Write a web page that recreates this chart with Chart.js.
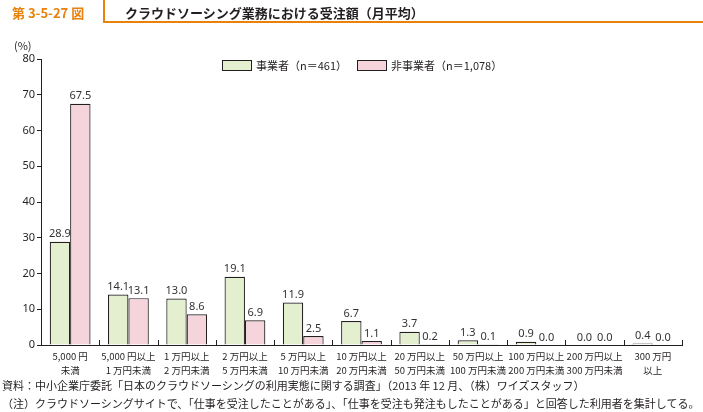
<!DOCTYPE html>
<html>
<head>
<meta charset="utf-8">
<script src="https://cdn.jsdelivr.net/npm/chart.js@4"></script>
<style>
  body { margin: 0; background: #fff; font-family: "Noto Sans CJK JP", "Noto Sans", sans-serif; color: #231f20; }
  #wrap { position: relative; width: 703px; height: 412px; overflow: hidden; }
  #wrap canvas { position: absolute; left: 0; top: 0; }
  .abs { position: absolute; white-space: nowrap; }
  #fig { left: 12px; top: 3px; font-size: 13px; font-weight: bold; color: #e8820c; }
  #vline { left: 103px; top: 0; width: 2px; height: 23px; background: #e8820c; }
  #hline { left: 103px; top: 21px; width: 600px; height: 2px; background: #e8820c; }
  #title { left: 125px; top: 3px; font-size: 13px; font-weight: bold; }
  #unit { left: 14px; top: 37px; font-size: 11px; }
  #legend { left: 222px; top: 57px; font-size: 11px; display: flex; align-items: center; }
  #legend .box { width: 28px; height: 9px; border: 1px solid #231f20; margin-right: 4px; }
  #legend .item { display: flex; align-items: center; margin-right: 10px; }
  .note { left: 2px; font-size: 11px; }
</style>
</head>
<body>
<div id="wrap">
  <canvas id="myChart" width="703" height="412"></canvas>
  <div class="abs" id="fig">第 3-5-27 図</div>
  <div class="abs" id="vline"></div>
  <div class="abs" id="hline"></div>
  <div class="abs" id="title">クラウドソーシング業務における受注額（月平均）</div>
  <div class="abs" id="unit">(%)</div>
  <div class="abs" id="legend"></div>
  <div class="abs note" style="top:377px">資料：中小企業庁委託「日本のクラウドソーシングの利用実態に関する調査」（2013 年 12 月、（株）ワイズスタッフ）</div>
  <div class="abs note" style="top:395px">（注）クラウドソーシングサイトで、「仕事を受注したことがある」、「仕事を受注も発注もしたことがある」と回答した利用者を集計してる。</div>
</div>
<script>
var categories = [
    ["5,000 円", "未満"],
    ["5,000 円以上", "1 万円未満"],
    ["1 万円以上", "2 万円未満"],
    ["2 万円以上", "5 万円未満"],
    ["5 万円以上", "10 万円未満"],
    ["10 万円以上", "20 万円未満"],
    ["20 万円以上", "50 万円未満"],
    ["50 万円以上", "100 万円未満"],
    ["100 万円以上", "200 万円未満"],
    ["200 万円以上", "300 万円未満"],
    ["300 万円", "以上"]
];
var seriesNames = ["事業者（n＝461）", "非事業者（n＝1,078）"];
var jigyosha = [28.9, 14.1, 13.0, 19.1, 11.9, 6.7, 3.7, 1.3, 0.9, 0.0, 0.4];
var hiJigyosha = [67.5, 13.1, 8.6, 6.9, 2.5, 1.1, 0.2, 0.1, 0.0, 0.0, 0.0];
var colors = ["#e4efcf", "#f5d4db"];
var yTicks = [0, 10, 20, 30, 40, 50, 60, 70, 80];

var ink = "#231f20";

// legend in html
var legend = document.getElementById("legend");
seriesNames.forEach(function(name, i) {
    var item = document.createElement("div");
    item.className = "item";
    item.innerHTML = '<span class="box" style="background:' + colors[i] + '"></span>' + name;
    legend.appendChild(item);
});

// value labels + short tick marks going up from the x axis
var extras = {
    id: "extras",
    afterDatasetsDraw: function(chart) {
        var ctx = chart.ctx;
        ctx.save();
        ctx.font = "11px 'Noto Sans', 'Noto Sans CJK JP', sans-serif";
        ctx.fillStyle = "#333";
        ctx.textAlign = "center";
        ctx.textBaseline = "bottom";
        chart.data.datasets.forEach(function(ds, di) {
            chart.getDatasetMeta(di).data.forEach(function(bar, i) {
                ctx.fillText(ds.data[i].toFixed(1), bar.x, bar.y - 2);
            });
        });
        var xs = chart.scales.x;
        ctx.strokeStyle = ink;
        ctx.lineWidth = 1;
        for (var i = 0; i <= categories.length; i++) {
            var px = Math.round(xs.getPixelForValue(i - 0.5)) + 0.5;
            ctx.beginPath();
            ctx.moveTo(px, chart.chartArea.bottom);
            ctx.lineTo(px, chart.chartArea.bottom - 5);
            ctx.stroke();
        }
        ctx.restore();
    }
};

var myChart = new Chart(document.getElementById("myChart"), {
    type: "bar",
    data: {
        labels: categories,
        datasets: [
            {
                label: seriesNames[0],
                data: jigyosha,
                backgroundColor: colors[0],
                borderColor: ink,
                borderWidth: 1.2
            },
            {
                label: seriesNames[1],
                data: hiJigyosha,
                backgroundColor: colors[1],
                borderColor: ink,
                borderWidth: 1.2
            }
        ]
    },
    options: {
        responsive: false,
        animation: false,
        layout: { padding: { left: 0, top: 59, right: 21, bottom: 0 } },
        datasets: { bar: { barPercentage: 1, categoryPercentage: 0.7 } },
        plugins: {
            legend: { display: false },
            tooltip: { enabled: false }
        },
        scales: {
            x: {
                grid: { display: false },
                border: { color: ink, width: 1 },
                ticks: {
                    color: ink,
                    font: { size: 9.5, family: "'Liberation Sans Narrow', 'Noto Sans CJK JP', sans-serif", lineHeight: 1.45 },
                    padding: -3,
                    maxRotation: 0,
                    autoSkip: false
                },
                afterFit: function(scale) { scale.height = 67; }
            },
            y: {
                min: 0,
                max: 80,
                afterBuildTicks: function(scale) {
                    scale.ticks = yTicks.map(function(v) { return { value: v }; });
                },
                grid: { drawOnChartArea: false, tickLength: 4, color: ink },
                border: { color: ink, width: 1 },
                ticks: {
                    color: ink,
                    font: { size: 11, family: "'Noto Sans', sans-serif" },
                    padding: 2
                },
                afterFit: function(scale) { scale.width = 41; }
            }
        }
    },
    plugins: [extras]
});
</script>
</body>
</html>
